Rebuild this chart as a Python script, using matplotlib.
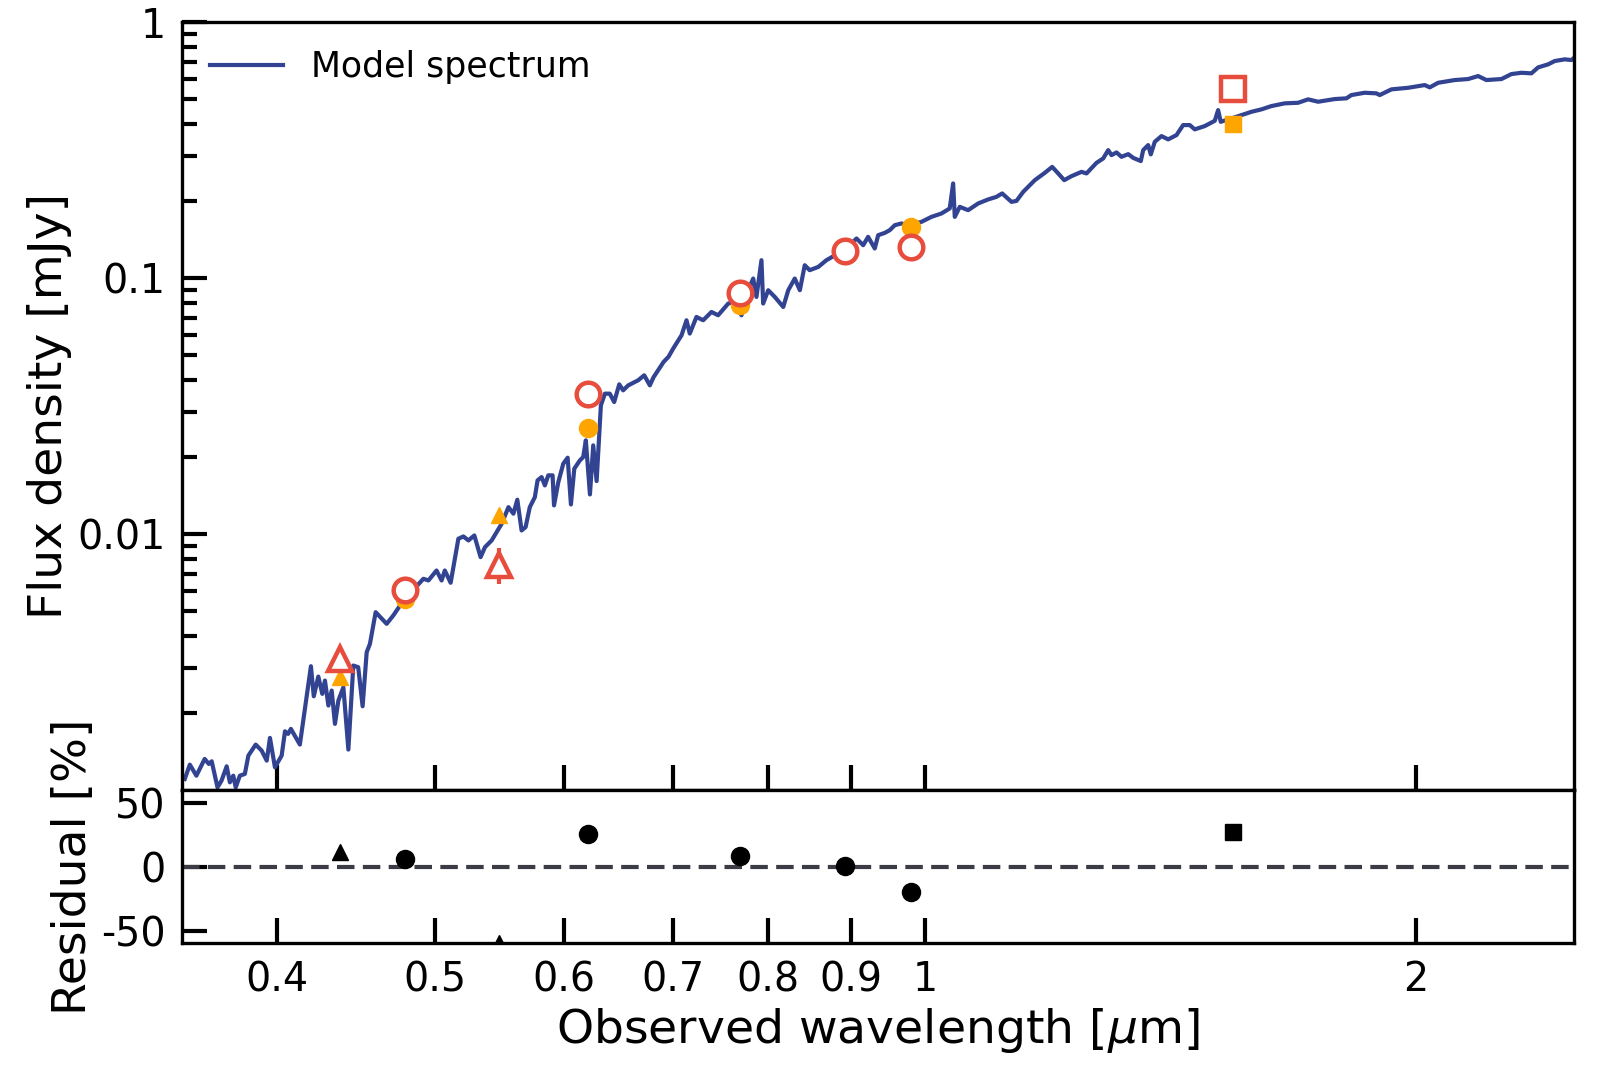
import numpy as np
import matplotlib
matplotlib.use("Agg")
import matplotlib.pyplot as plt
from matplotlib.ticker import NullLocator, FixedLocator, LogLocator, NullFormatter

plt.rcParams['font.family'] = ['DejaVu Sans']
plt.rcParams['axes.unicode_minus'] = False

# model spectrum (wavelength in micron, flux density in mJy)
wave = [0.3512, 0.3537, 0.3570, 0.3612, 0.3633, 0.3648, 0.3678, 0.3699, 0.3726, 0.3743,
        0.3761, 0.3774, 0.3796, 0.3823, 0.3842, 0.3882, 0.3915, 0.3943, 0.3961, 0.3989,
        0.4027, 0.4046, 0.4064, 0.4080, 0.4132, 0.4197, 0.4214, 0.4241, 0.4265, 0.4281,
        0.4302, 0.4322, 0.4342, 0.4363, 0.4394, 0.4425, 0.4456, 0.4487, 0.4515, 0.4541,
        0.4562, 0.4599, 0.4671, 0.4715, 0.4783, 0.4920, 0.4955, 0.5012, 0.5048, 0.5071,
        0.5113, 0.5169, 0.5206, 0.5243, 0.5287, 0.5334, 0.5367, 0.5418, 0.5495, 0.5548,
        0.5587, 0.5618, 0.5652, 0.5684, 0.5718, 0.5759, 0.5781, 0.5814, 0.5841, 0.5869,
        0.5905, 0.5917, 0.5953, 0.5995, 0.6032, 0.6060, 0.6089, 0.6137, 0.6166, 0.6189,
        0.6225, 0.6254, 0.6284, 0.6322, 0.6358, 0.6402, 0.6442, 0.6488, 0.6524, 0.6571,
        0.6664, 0.6721, 0.6775, 0.6810, 0.6908, 0.6956, 0.7002, 0.7085, 0.7135, 0.7168,
        0.7236, 0.7305, 0.7391, 0.7461, 0.7568, 0.7638, 0.7711, 0.7784, 0.7840, 0.7876,
        0.7932, 0.7951, 0.8008, 0.8083, 0.8180, 0.8238, 0.8314, 0.8374, 0.8432, 0.8491,
        0.8595, 0.8694, 0.8839, 0.8966, 0.9072, 0.9158, 0.9222, 0.9309, 0.9354, 0.9441,
        0.9508, 0.9576, 0.9667, 0.9759, 0.9944, 1.0085, 1.0229, 1.0349, 1.0399, 1.0423,
        1.0497, 1.0622, 1.0773, 1.0926, 1.1055, 1.1145, 1.1293, 1.1373, 1.1481, 1.1671,
        1.1837, 1.1961, 1.2063, 1.2166, 1.2292, 1.2467, 1.2555, 1.2734, 1.2855, 1.2946,
        1.3006, 1.3099, 1.3191, 1.3317, 1.3411, 1.3556, 1.3602, 1.3698, 1.3749, 1.3827,
        1.3958, 1.4091, 1.4257, 1.4392, 1.4527, 1.4630, 1.4838, 1.5049, 1.5121, 1.5177,
        1.5408, 1.5627, 1.5849, 1.6075, 1.6304, 1.6613, 1.6931, 1.7172, 1.7416, 1.7829,
        1.8126, 1.8254, 1.8601, 1.8911, 1.8999, 1.9316, 1.9777, 2.0247, 2.0391, 2.0634,
        2.1123, 2.1527, 2.1833, 2.2090, 2.2564, 2.2884, 2.3210, 2.3540, 2.3764, 2.4102,
        2.4328, 2.4674, 2.4908, 2.5025, 2.5120]
flux = [1.103e-3, 1.255e-3, 1.136e-3, 1.321e-3, 1.263e-3, 1.293e-3, 1.023e-3, 1.086e-3, 1.236e-3, 1.070e-3,
        1.136e-3, 1.023e-3, 1.136e-3, 1.154e-3, 1.361e-3, 1.503e-3, 1.423e-3, 1.301e-3, 1.596e-3, 1.225e-3,
        1.361e-3, 1.694e-3, 1.655e-3, 1.731e-3, 1.503e-3, 3.043e-3, 2.322e-3, 2.773e-3, 2.373e-3, 2.674e-3,
        2.136e-3, 2.444e-3, 1.811e-3, 2.234e-3, 2.518e-3, 1.437e-3, 3.062e-3, 3.016e-3, 2.122e-3, 3.451e-3,
        3.722e-3, 4.949e-3, 4.457e-3, 4.804e-3, 5.498e-3, 6.685e-3, 6.584e-3, 7.203e-3, 6.584e-3, 7.203e-3,
        6.449e-3, 9.585e-3, 9.786e-3, 9.441e-3, 9.874e-3, 8.122e-3, 8.886e-3, 9.441e-3, 0.01097, 0.01274,
        0.01201, 0.01362, 0.01033, 0.01064, 0.01274, 0.01394, 0.01621, 0.01670, 0.01549, 0.01696,
        0.01696, 0.01294, 0.01596, 0.01884, 0.01988, 0.01305, 0.01801, 0.01940, 0.01999, 0.02324,
        0.01428, 0.02221, 0.01611, 0.03184, 0.03538, 0.03538, 0.03281, 0.03847, 0.03645, 0.03812,
        0.03991, 0.04174, 0.03812, 0.04100, 0.04709, 0.04931, 0.05309, 0.05984, 0.06850, 0.06076,
        0.07056, 0.06850, 0.07382, 0.07164, 0.07962, 0.08078, 0.07164, 0.08976, 0.09972, 0.08450,
        0.1176, 0.07962, 0.08976, 0.08450, 0.07721, 0.08976, 0.09972, 0.08976, 0.1124, 0.1075,
        0.1107, 0.1176, 0.1249, 0.1326, 0.1430, 0.1346, 0.1451, 0.1307, 0.1473, 0.1504,
        0.1541, 0.1612, 0.1637, 0.1612, 0.1661, 0.1737, 0.1791, 0.1874, 0.2347, 0.1737,
        0.1901, 0.1845, 0.1960, 0.2032, 0.2080, 0.2145, 0.1988, 0.2006, 0.2176, 0.2417,
        0.2582, 0.2724, 0.2568, 0.2417, 0.2506, 0.2605, 0.2568, 0.2825, 0.2939, 0.3168,
        0.3028, 0.3102, 0.2982, 0.3055, 0.2955, 0.2870, 0.3168, 0.3314, 0.3048, 0.3415,
        0.3594, 0.3489, 0.3627, 0.3969, 0.3969, 0.3818, 0.3933, 0.4124, 0.4542, 0.4087,
        0.4214, 0.4342, 0.4472, 0.4571, 0.4709, 0.4826, 0.4851, 0.5003, 0.4896, 0.5016,
        0.5048, 0.5200, 0.5309, 0.5280, 0.5200, 0.5473, 0.5552, 0.5689, 0.5572, 0.5808,
        0.5952, 0.6006, 0.6170, 0.5952, 0.6006, 0.6281, 0.6355, 0.6322, 0.6670, 0.6854,
        0.7063, 0.7171, 0.7126, 0.7304, 0.7019]

# photometry
band_wave = [0.4374, 0.4797, 0.5477, 0.6204, 0.7691, 0.8923, 0.9804, 1.545]
obs_flux = [3.25e-3, 6.02e-3, 7.60e-3, 0.03538, 0.08759, 0.1275, 0.1326, 0.5487]
obs_err = [0, 0, 1.2e-3, 0, 0, 0, 0, 0]
mod_flux = [2.77e-3, 5.58e-3, 0.0119, 0.02605, 0.07842, 0.1267, 0.1587, 0.4004]
residual = [12.3, 6.4, -59.0, 25.9, 8.4, 0.6, -19.5, 27.3]
markers = ['^', 'o', '^', 'o', 'o', 'o', 'o', 's']

xticks = [0.4, 0.5, 0.6, 0.7, 0.8, 0.9, 1, 2]
xticklabels = ['0.4', '0.5', '0.6', '0.7', '0.8', '0.9', '1', '2']

red = '#e74c3c'
orange = '#ffa500'
blue = '#324392'

fig = plt.figure(figsize=(15.97, 10.77), dpi=100)
gs = fig.add_gridspec(2, 1, height_ratios=[5, 1], hspace=0,
                      left=0.1142, right=0.9856, top=0.9792, bottom=0.1241)
ax = fig.add_subplot(gs[0])
axr = fig.add_subplot(gs[1], sharex=ax)

ax.plot(wave, flux, color=blue, lw=3, label='Model spectrum', zorder=2)
for w, m, mk in zip(band_wave, mod_flux, markers):
    ms = 12 if mk == 's' else (11.5 if mk == '^' else 13)
    ax.plot(w, m, marker=mk, ms=ms, color=orange, ls='none', zorder=3)
for w, f, e, mk in zip(band_wave, obs_flux, obs_err, markers):
    ax.errorbar(w, f, yerr=e if e > 0 else None, marker=mk, ms=17, mfc='white',
                mec=red, mew=3.2, ecolor=red, elinewidth=3, ls='none', zorder=4)

for w, r, mk in zip(band_wave, residual, markers):
    ms = 12 if mk == 's' else (11 if mk == '^' else 13)
    axr.plot(w, r, marker=mk, ms=ms, color='black', ls='none', zorder=3)
axr.axhline(0, color='#3c3c46', lw=3, dashes=(4.2, 2.0), zorder=2)

ax.set_xscale('log')
ax.set_yscale('log')
ax.set_xlim(0.35, 2.5)
ax.set_ylim(1e-3, 1)
axr.set_ylim(-59.5, 60.5)

ax.yaxis.set_major_locator(FixedLocator([0.01, 0.1, 1]))
ax.set_yticklabels(['0.01', '0.1', '1'])
ax.yaxis.set_minor_locator(LogLocator(base=10, subs=np.arange(2, 10)))
ax.yaxis.set_minor_formatter(NullFormatter())

axr.set_xticks(xticks)
axr.set_xticklabels(xticklabels)
axr.xaxis.set_minor_locator(NullLocator())
axr.set_yticks([-50, 0, 50])
axr.set_yticklabels(['-50', '0', '50'])
plt.setp(ax.get_xticklabels(), visible=False)

for a in (ax, axr):
    for s in a.spines.values():
        s.set_linewidth(2.4)
    a.tick_params(which='major', direction='in', length=18, width=3, labelsize=28.5, pad=12,
                  top=False, right=False)
    a.tick_params(which='minor', direction='in', length=11, width=3, top=False, right=False)
ax.tick_params(axis='x', which='both', labelbottom=False)

ax.set_ylabel('Flux density [mJy]', fontsize=34)
axr.set_ylabel('Residual [%]', fontsize=34)
axr.set_xlabel(r'Observed wavelength [$\mu$m]', fontsize=34)

ax.legend(loc='upper left', frameon=False, fontsize=25, handlelength=2.1,
          borderaxespad=0.4)

fig.savefig('out.png', dpi=100)
